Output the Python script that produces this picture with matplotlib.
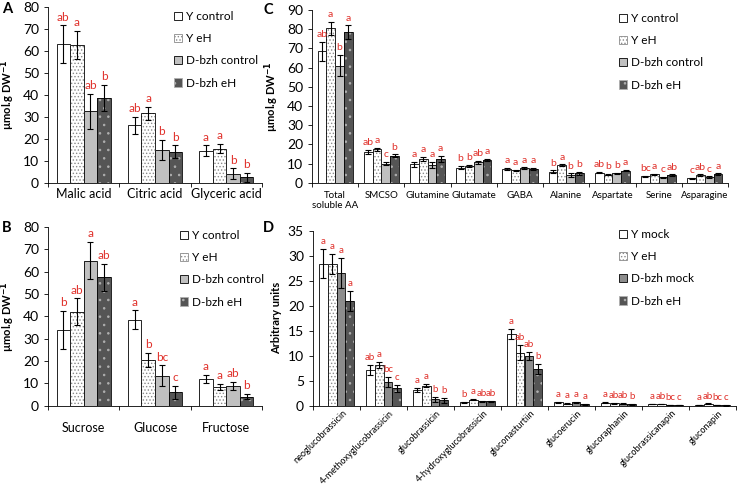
#!/usr/bin/env python
# -*- coding: utf-8 -*-

import numpy as np
import matplotlib
matplotlib.use('Agg')
import matplotlib.pyplot as plt
import matplotlib.transforms as mtrans
from matplotlib.patches import Patch

plt.rcParams['font.family'] = ['Lato', 'DejaVu Sans']
plt.rcParams['hatch.linewidth'] = 0.6

# ---- data ----
acids = ['Malic acid', 'Citric acid', 'Glyceric acid']
acid_mean = [[63, 26, 14.5], [62.5, 31.5, 15.5], [32.5, 15, 4], [38.5, 14, 2.5]]
acid_err = [[8.5, 4, 2.5], [6.5, 3, 2], [8, 4.5, 2.5], [6, 3, 2]]
acid_let = [['ab', 'ab', 'a'], ['a', 'a', 'a'], ['ab', 'b', 'b'], ['b', 'b', 'b']]

sugars = ['Sucrose', 'Glucose', 'Fructose']
sugar_mean = [[34, 38.5, 12], [42, 20.5, 8.5], [65, 13.5, 9], [57.5, 6, 4]]
sugar_err = [[8.5, 4.2, 1.8], [6, 3, 1.3], [8.5, 4.5, 1.8], [6, 3, 1.2]]
sugar_let = [['b', 'a', 'a'], ['ab', 'b', 'a'], ['a', 'bc', 'ab'], ['ab', 'c', 'b']]

amino = ['Total\nsoluble AA', 'SMCSO', 'Glutamine', 'Glutamate', 'GABA',
         'Alanine', 'Aspartate', 'Serine', 'Asparagine']
amino_mean = [[68.5, 16.1, 9.5, 7.8, 7.1, 5.6, 5.2, 3.3, 2.3],
              [80.5, 17.5, 12.3, 8.9, 6.4, 9.2, 4.2, 4.4, 4.0],
              [61, 10, 9.2, 10.6, 7.5, 4.0, 4.9, 2.8, 3.0],
              [78.5, 14, 12.3, 11.8, 7.2, 4.9, 6.3, 4.0, 4.5]]
amino_err = [[5, 1, 1.5, 0.8, 0.5, 0.8, 0.3, 0.2, 0.3],
             [3.5, 0.8, 1.2, 0.5, 0.4, 0.4, 0.3, 0.2, 0.3],
             [5.5, 1, 1.5, 0.8, 0.5, 0.8, 0.3, 0.2, 0.3],
             [3.5, 0.8, 1.5, 0.5, 0.4, 0.8, 0.4, 0.3, 0.4]]
amino_let = [['ab', 'ab', 'a', 'b', 'a', 'b', 'ab', 'bc', 'c'],
             ['a', 'a', 'a', 'b', 'a', 'a', 'b', 'a', 'ab'],
             ['b', 'c', 'a', 'ab', 'a', 'b', 'b', 'c', 'c'],
             ['a', 'b', 'a', 'a', 'a', 'b', 'a', 'ab', 'a']]

gsl = ['neoglucobrassicin', '4-methoxyglucobrassicin', 'glucobrassicin',
       '4-hydroxyglucobrassicin', 'gluconasturtiin', 'glucoerucin',
       'glucoraphanin', 'glucobrassicanapin', 'gluconapin']
gsl_mean = [[28.4, 7.1, 3.1, 0.7, 14.3, 0.7, 0.6, 0.3, 0.1],
            [28.4, 8.1, 4.0, 1.2, 10.6, 0.4, 0.5, 0.3, 0.35],
            [26.6, 4.8, 1.3, 0.9, 10.0, 0.7, 0.4, 0.1, 0.15],
            [21.0, 3.5, 1.1, 0.9, 7.3, 0.3, 0.3, 0.1, 0.05]]
gsl_err = [[2.9, 1.0, 0.4, 0.1, 1.0, 0.1, 0.1, 0.05, 0.05],
           [2.0, 0.6, 0.3, 0.1, 1.5, 0.1, 0.1, 0.05, 0.1],
           [3.0, 1.0, 0.5, 0.1, 0.8, 0.1, 0.1, 0.05, 0.05],
           [2.0, 0.7, 0.5, 0.1, 1.0, 0.1, 0.1, 0.05, 0.05]]
gsl_let = [['a', 'ab', 'a', 'b', 'a', 'a', 'a', 'a', 'a'],
           ['a', 'a', 'a', 'a', 'ab', 'a', 'ab', 'ab', 'ab'],
           ['a', 'bc', 'b', 'ab', 'ab', 'a', 'ab', 'bc', 'bc'],
           ['a', 'c', 'b', 'ab', 'b', 'a', 'b', 'c', 'c']]

names_ctrl = ['Y control', 'Y eH', 'D-bzh control', 'D-bzh eH']
names_mock = ['Y mock', 'Y eH', 'D-bzh mock', 'D-bzh eH']

RED = '#e0302a'
W, H = 739, 488


def px_axes(fig, l, t, r, b):
    return fig.add_axes([l / W, 1 - b / H, (r - l) / W, (b - t) / H])


def styles(dark):
    # (facecolor, hatch, hatchcolor)
    return [('white', None, 'black'),
            ('white', '.....', '#8a8a8a'),
            ('#c0c0c0' if not dark else '#8c8c8c', None, 'black'),
            ('#555555', '..', '#b0b0b0')]


def bars(ax, cats, mean, err, lets, ymax, step, dark=False, fs=6.5):
    x = np.arange(len(cats))
    w = 0.19
    st = styles(dark)
    for i in range(4):
        pos = x + (i - 1.5) * w
        fc, hatch, hc = st[i]
        ax.bar(pos, mean[i], w, color=fc, hatch=hatch, edgecolor=hc, lw=0)
        ax.bar(pos, mean[i], w, fill=False, edgecolor='black', lw=0.6)
        ax.errorbar(pos, mean[i], yerr=err[i], fmt='none', ecolor='black',
                    elinewidth=0.8, capsize=2.5, capthick=0.8)
        for p, m, e, s in zip(pos, mean[i], err[i], lets[i]):
            ax.annotate(s, (p, m + e), xytext=(0, 2), textcoords='offset points',
                        ha='center', va='bottom', color=RED, fontsize=fs)
    ax.set_xlim(-0.5, len(cats) - 0.5)
    ax.set_ylim(0, ymax)
    ax.set_yticks(np.arange(0, ymax + 0.1, step))
    ax.set_xticks(x)
    ax.set_xticks(np.arange(len(cats) + 1) - 0.5, minor=True)
    ax.tick_params(axis='x', which='major', length=0)
    ax.tick_params(axis='x', which='minor', length=3, width=0.6)
    ax.tick_params(axis='y', length=3, width=0.6, labelsize=10)
    for s in ['top', 'right']:
        ax.spines[s].set_visible(False)
    ax.spines['left'].set_linewidth(0.6)
    ax.spines['bottom'].set_linewidth(0.6)


def legend(fig, names, dark, x, y, fs):
    st = styles(dark)
    handles = [Patch(facecolor=fc, hatch=h, edgecolor=hc if h else 'black', lw=0.6)
               for fc, h, hc in st]
    fig.legend(handles, names, loc='upper left', bbox_to_anchor=(x / W, 1 - y / H),
               frameon=False, fontsize=fs, handlelength=0.7, handleheight=0.7,
               handletextpad=0.3, labelspacing=0.95, borderpad=0, borderaxespad=0)


def main():
    fig = plt.figure(figsize=(7.39, 4.88), dpi=100)
    ylab = 'µmol.g DW$^{\\mathbf{-1}}$'

    axA = px_axes(fig, 48, 6.7, 262, 182.7)
    bars(axA, acids, acid_mean, acid_err, acid_let, 80, 10, fs=8.5)
    axA.set_xticklabels(acids, fontsize=9)
    axA.set_ylabel(ylab, fontsize=8, fontweight='bold', labelpad=4)
    legend(fig, names_ctrl, False, 174, 11, 8.5)

    axB = px_axes(fig, 48, 227, 262, 405.7)
    bars(axB, sugars, sugar_mean, sugar_err, sugar_let, 80, 10, fs=8.5)
    axB.set_xticklabels(sugars, fontsize=9)
    axB.tick_params(axis='x', pad=12)
    axB.set_ylabel(ylab, fontsize=8, fontweight='bold', labelpad=4)
    legend(fig, names_ctrl, False, 180, 230, 8.5)

    axC = px_axes(fig, 312, 10, 728, 182.7)
    bars(axC, amino, amino_mean, amino_err, amino_let, 90, 10, fs=7.5)
    axC.set_xticklabels(amino, fontsize=7)
    axC.tick_params(axis='x', pad=6)
    axC.set_ylabel(ylab, fontsize=8, fontweight='bold', labelpad=4)
    legend(fig, names_ctrl, False, 619, 13, 8.5)

    axD = px_axes(fig, 313, 230.7, 736, 405.7)
    bars(axD, gsl, gsl_mean, gsl_err, gsl_let, 35, 5, dark=True, fs=7)
    axD.set_xticklabels(gsl, fontsize=6.6, rotation=45, ha='right', rotation_mode='anchor')
    axD.tick_params(axis='x', pad=2)
    shift = mtrans.ScaledTranslation(6 / 100, 0, fig.dpi_scale_trans)
    for t in axD.get_xticklabels():
        t.set_transform(t.get_transform() + shift)
    axD.set_ylabel('Arbitrary units', fontsize=8, fontweight='bold', labelpad=4)
    legend(fig, names_mock, True, 619, 229, 8.5)

    for lab, x, y in [('A', 2, 2), ('B', 2, 221), ('C', 263, 3), ('D', 263, 221)]:
        fig.text(x / W, 1 - y / H, lab, fontsize=10.5, fontweight='bold', va='top', ha='left')

    fig.savefig('out.png', dpi=100)


if __name__ == '__main__':
    main()
